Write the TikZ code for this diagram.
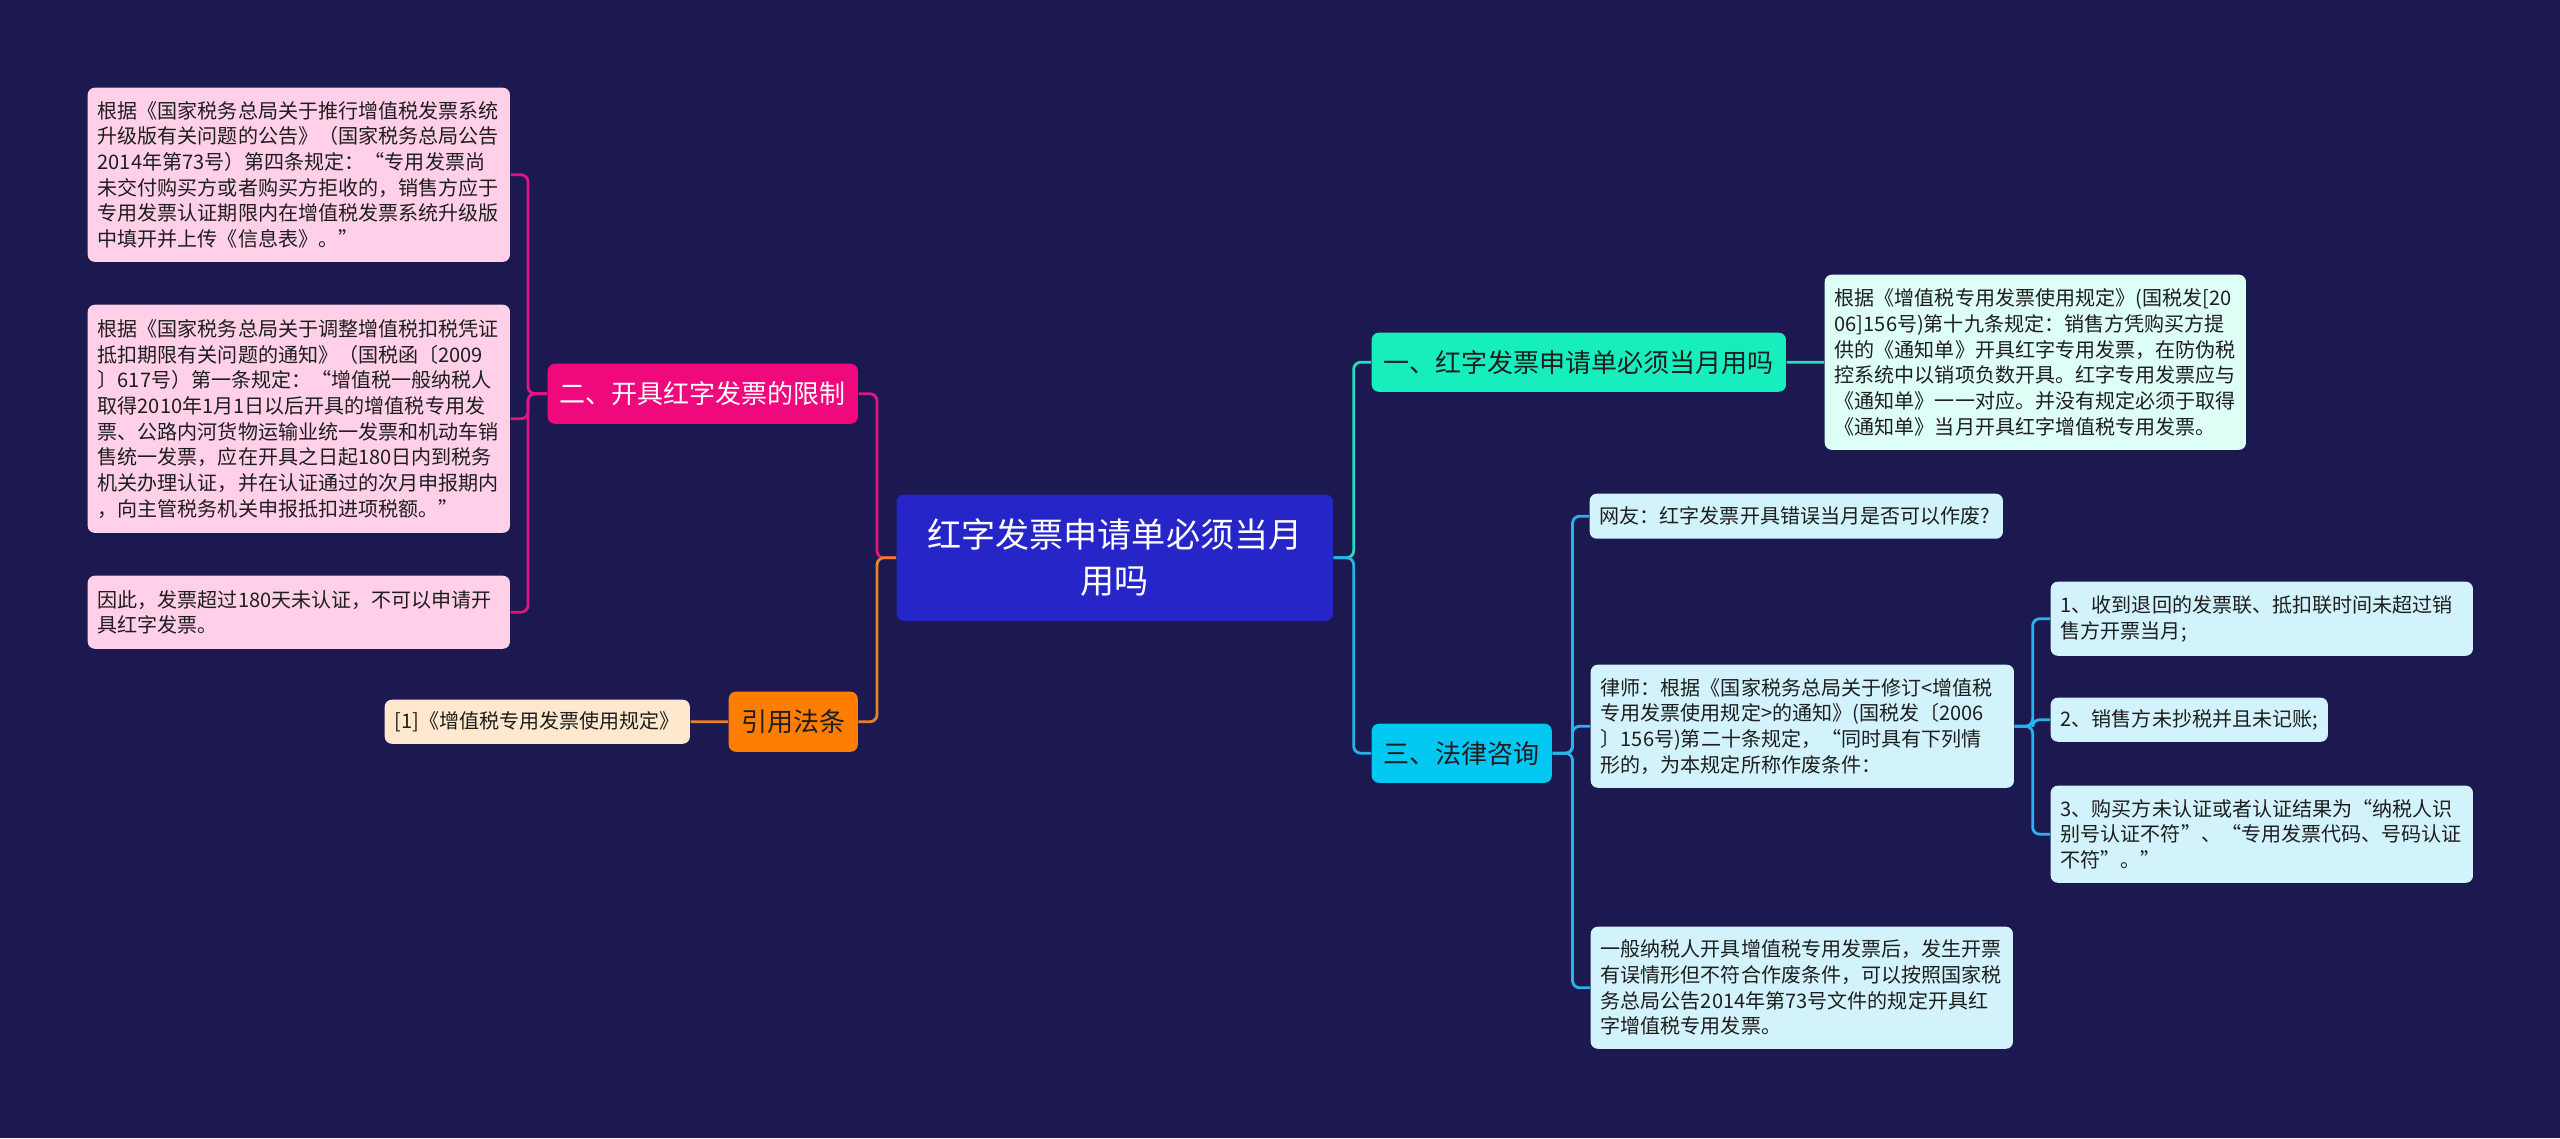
\documentclass[tikz,border=0pt]{standalone}
\usepackage{fontspec}
\setmainfont{Noto Sans CJK SC}
\usepackage{xcolor}
\definecolor{BgNavy}{RGB}{27,25,80}
\definecolor{RootBlue}{RGB}{38,38,200}
\definecolor{TealFill}{RGB}{22,238,190}
\definecolor{CyanFill}{RGB}{0,200,240}
\definecolor{PinkFill}{RGB}{240,8,125}
\definecolor{OrangeFill}{RGB}{255,125,0}
\definecolor{MintLeaf}{RGB}{222,255,246}
\definecolor{CyanLeaf}{RGB}{210,243,252}
\definecolor{PinkLeaf}{RGB}{255,208,232}
\definecolor{PeachLeaf}{RGB}{255,232,205}
\definecolor{TealLine}{RGB}{40,220,190}
\definecolor{CyanLine}{RGB}{40,180,235}
\definecolor{PinkLine}{RGB}{225,20,130}
\definecolor{OrangeLine}{RGB}{232,130,40}
\definecolor{TextDark}{RGB}{30,30,30}

\begin{document}
\begin{tikzpicture}[x=0.01cm, y=-0.01cm,
	every node/.style={anchor=north west, inner ysep=0pt, inner xsep=0.1cm, rounded corners=2pt},
	rootnode/.style={fill=RootBlue, text=white, align=center, font=\fontsize{9.7}{13.1}\selectfont},
	branch/.style={font=\fontsize{7.4}{9}\selectfont, text=TextDark},
	leaf/.style={align=left, font=\fontsize{5.7}{7.3}\selectfont, text=TextDark},
	link/.style={line width=0.8pt, rounded corners=2pt}]
	
	% 背景
	\useasboundingbox (0,0) rectangle (2560,1138);
	\fill[BgNavy] (0,0) rectangle (2560,1138);
	
	% 中心主题
	\node[rootnode, minimum width=4.36cm, minimum height=1.26cm] (root) at (896,494) {红字发票申请单必须当月\\用吗};
	
	% 右侧分支
	\node[branch, fill=TealFill, minimum width=4.14cm, minimum height=0.59cm] (b1) at (1371,332) {一、红字发票申请单必须当月用吗};
	\node[branch, fill=CyanFill, minimum width=1.80cm, minimum height=0.59cm] (b3) at (1371,723) {三、法律咨询};
	
	\node[leaf, fill=MintLeaf, text width=4.01cm, minimum height=1.75cm] (l1) at (1824,274) {根据《增值税专用发票使用规定》(国税发[20\\06]156号)第十九条规定：销售方凭购买方提\\供的《通知单》开具红字专用发票，在防伪税\\控系统中以销项负数开具。红字专用发票应与\\《通知单》一一对应。并没有规定必须于取得\\《通知单》当月开具红字增值税专用发票。};
	
	\node[leaf, fill=CyanLeaf, text width=3.93cm, minimum height=0.45cm] (q) at (1589,493) {网友：红字发票开具错误当月是否可以作废?};
	\node[leaf, fill=CyanLeaf, text width=4.03cm, minimum height=1.23cm] (a) at (1590,664) {律师：根据《国家税务总局关于修订<增值税\\专用发票使用规定>的通知》(国税发〔2006\\〕156号)第二十条规定，“同时具有下列情\\形的，为本规定所称作废条件：};
	\node[leaf, fill=CyanLeaf, text width=4.02cm, minimum height=1.22cm] (n) at (1590,926) {一般纳税人开具增值税专用发票后，发生开票\\有误情形但不符合作废条件，可以按照国家税\\务总局公告2014年第73号文件的规定开具红\\字增值税专用发票。};
	
	\node[leaf, fill=CyanLeaf, text width=4.02cm, minimum height=0.74cm] (c1) at (2050,581) {1、收到退回的发票联、抵扣联时间未超过销\\售方开票当月;};
	\node[leaf, fill=CyanLeaf, text width=2.57cm, minimum height=0.44cm] (c2) at (2050,697) {2、销售方未抄税并且未记账;};
	\node[leaf, fill=CyanLeaf, text width=4.02cm, minimum height=0.97cm] (c3) at (2050,785) {3、购买方未认证或者认证结果为“纳税人识\\别号认证不符”、“专用发票代码、号码认证\\不符”。”};
	
	% 左侧分支
	\node[branch, fill=PinkFill, text=white, minimum width=3.10cm, minimum height=0.60cm] (b2) at (547,363) {二、开具红字发票的限制};
	\node[branch, fill=OrangeFill, minimum width=1.29cm, minimum height=0.60cm] (b4) at (728,691) {引用法条};
	
	\node[leaf, fill=PinkLeaf, text width=4.02cm, minimum height=1.74cm] (p1) at (87,87) {根据《国家税务总局关于推行增值税发票系统\\升级版有关问题的公告》（国家税务总局公告\\2014年第73号）第四条规定：“专用发票尚\\未交付购买方或者购买方拒收的，销售方应于\\专用发票认证期限内在增值税发票系统升级版\\中填开并上传《信息表》。”};
	\node[leaf, fill=PinkLeaf, text width=4.02cm, minimum height=2.28cm] (p2) at (87,304) {根据《国家税务总局关于调整增值税扣税凭证\\抵扣期限有关问题的通知》（国税函〔2009\\〕617号）第一条规定：“增值税一般纳税人\\取得2010年1月1日以后开具的增值税专用发\\票、公路内河货物运输业统一发票和机动车销\\售统一发票，应在开具之日起180日内到税务\\机关办理认证，并在认证通过的次月申报期内\\，向主管税务机关申报抵扣进项税额。”};
	\node[leaf, fill=PinkLeaf, text width=4.02cm, minimum height=0.73cm] (p3) at (87,575) {因此，发票超过180天未认证，不可以申请开\\具红字发票。};
	\node[leaf, fill=PeachLeaf, text width=2.85cm, minimum height=0.44cm] (r1) at (384,699) {[1]《增值税专用发票使用规定》};
	
	% 连线
	\draw[link, PinkLine] (root.west) -- ++(-19,0) |- (b2.east);
	\draw[link, OrangeLine] (root.west) -- ++(-19,0) |- (b4.east);
	\foreach \n in {p1,p2,p3}
		\draw[link, PinkLine] (b2.west) -- ++(-19,0) |- (\n.east);
	\draw[link, OrangeLine] (b4.west) -- (r1.east);
	
	\draw[link, TealLine] (root.east) -- ++(20,0) |- (b1.west);
	\draw[link, CyanLine] (root.east) -- ++(20,0) |- (b3.west);
	\draw[link, TealLine] (b1.east) -- (l1.west);
	\foreach \n in {q,a,n}
		\draw[link, CyanLine] (b3.east) -- ++(20,0) |- (\n.west);
	\foreach \n in {c1,c2,c3}
		\draw[link, CyanLine] (a.east) -- ++(18,0) |- (\n.west);
\end{tikzpicture}
\end{document}
